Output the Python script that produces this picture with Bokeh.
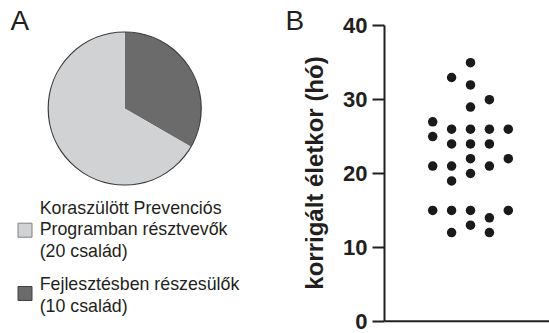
import math
from bokeh.plotting import figure
from bokeh.layouts import row
from bokeh.models import Range1d, FixedTicker, ColumnDataSource, Span
from bokeh.core.properties import value
from bokeh.embed import file_html
from bokeh.resources import INLINE

# ---------------- data ----------------
groups = ["Fejlesztésben részesülők", "Koraszülött Prevenciós Programban résztvevők"]
group_counts = [10, 20]
group_colors = ["#6b6b6b", "#d1d2d4"]
legend_lines = [
    ["Koraszülött Prevenciós", "Programban résztvevők", "(20 család)"],
    ["Fejlesztésben részesülők", "(10 család)"],
]
legend_colors = ["#d1d2d4", "#6b6b6b"]
legend_borders = ["#808080", "#404040"]

# corrected age (months), arranged by swarm column
col1 = [27, 25, 21, 15]
col2 = [33, 26, 24, 21, 19, 15, 12]
col3 = [35, 32, 29, 26, 24, 22, 20, 15, 13]
col4 = [30, 26, 24, 21, 14, 12]
col5 = [26, 22, 15]
y_ticks = [0, 10, 20, 30, 40]
y_label = "korrigált életkor (hó)"
panel_letters = ["A", "B"]

FONT = "Liberation Sans"
INK = "#231f20"
H = 333

# ---------------- left canvas ----------------
W1 = 335
pa = figure(width=W1, height=H, x_range=Range1d(0, W1), y_range=Range1d(0, H),
            x_axis_location=None, y_axis_location=None, toolbar_location=None,
            output_backend="svg", min_border=0)
pa.title.visible = False
pa.grid.visible = False
pa.outline_line_color = None

cx, cy, r = 124.2, 225.0, 76.5
total = sum(group_counts)
start = math.pi / 2
starts, ends = [], []
for c in group_counts:
    a = 2 * math.pi * c / total
    starts.append(start - a)
    ends.append(start)
    start -= a
src = ColumnDataSource(dict(s=starts, e=ends, c=group_colors))
pa.wedge(x=cx, y=cy, radius=r, start_angle="s", end_angle="e", fill_color="c",
         line_color=None, source=src)
pa.circle(x=[cx], y=[cy], radius=r, fill_color=None, line_color="#3a3a3a", line_width=1.2)

# legend
lx_box, lx_txt, lh, fs = 24.5, 39.2, 21.4, 17.8
first_base = [125.7, 49.3]
box_y = [103.3, 40.0]
for i, lines in enumerate(legend_lines):
    ys = [first_base[i] - k * lh for k in range(len(lines))]
    pa.text(x=[lx_txt] * len(lines), y=ys, text=lines, text_font=value(FONT),
            text_font_size=f"{fs}px", text_color=INK, text_baseline="alphabetic",
            text_align="left")
    pa.rect(x=[lx_box], y=[box_y[i]], width=14, height=14, fill_color=legend_colors[i],
            line_color=legend_borders[i], line_width=1)

pa.text(x=[10, 285], y=[313, 313], text=panel_letters, text_font=value(FONT),
        text_font_size="28px", text_color=INK, text_baseline="alphabetic")

pa.text(x=[314], y=[160.5], text=[y_label], angle=math.pi / 2, text_font=value(FONT),
        text_font_size="24px", text_font_style="bold", text_color=INK,
        text_baseline="alphabetic", text_align="center")

# ---------------- right canvas: dot plot ----------------
W2 = 214
ppx = 18.9            # px per swarm column
ppy = 7.385           # px per month
x0 = 3 - 86 / ppx
x1 = x0 + 165 / ppx
y0 = -12.3 / ppy
y1 = 40 + 25.3 / ppy
pb = figure(width=W2, height=H, x_range=Range1d(x0, x1), y_range=Range1d(y0, y1),
            x_axis_location=None, toolbar_location=None, output_backend="svg",
            min_border_left=49, min_border_right=0, min_border_top=0, min_border_bottom=0)
pb.title.visible = False
pb.grid.visible = False
pb.outline_line_color = None

cols = [col1, col2, col3, col4, col5]
xs, ys = [], []
for k, col in enumerate(cols, start=1):
    xs += [k] * len(col)
    ys += col
pb.scatter(x=xs, y=ys, size=9.5, fill_color="#1a1a1a", line_color=None)

ya = pb.yaxis[0]
ya.ticker = FixedTicker(ticks=y_ticks)
ya.bounds = (y_ticks[0], y_ticks[-1])
ya.major_label_text_font = FONT
ya.major_label_text_font_size = "22px"
ya.major_label_text_font_style = "bold"
ya.major_label_text_color = INK
ya.major_label_standoff = 5
ya.major_tick_out = 12
ya.major_tick_in = 0
ya.major_tick_line_width = 2
ya.major_tick_line_color = INK
ya.minor_tick_line_color = None
ya.axis_line_width = 2
ya.axis_line_color = INK

pb.add_layout(Span(location=y_ticks[0], dimension="width", line_color=INK, line_width=2))

layout = row(pa, pb)
open("out.html", "w").write(file_html(layout, INLINE))
